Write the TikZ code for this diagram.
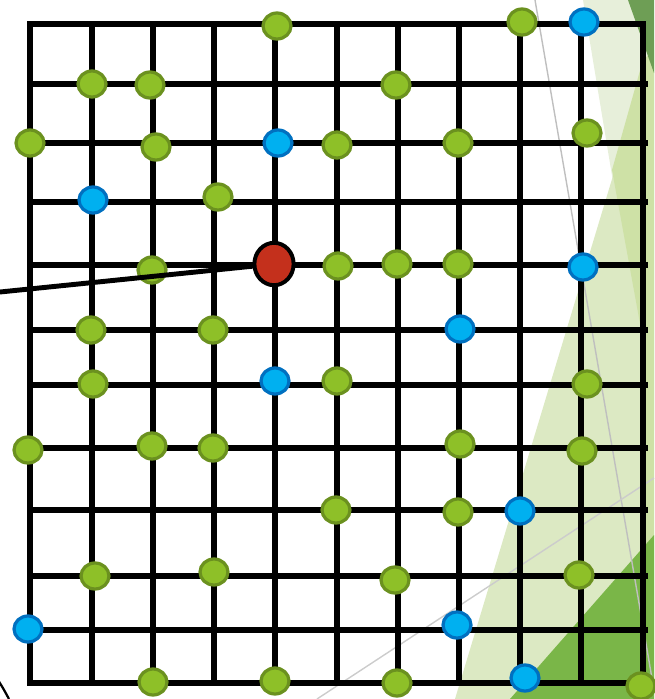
\documentclass[tikz,border=0pt]{standalone}
\usepackage{tikz}
\usetikzlibrary{shapes.geometric}

\definecolor{dotgreen}{HTML}{8EC028}
\definecolor{dotgreenline}{HTML}{6B911F}
\definecolor{dotblue}{HTML}{00B0F0}
\definecolor{dotblueline}{HTML}{0070C0}
\definecolor{hubred}{HTML}{C4301C}
\definecolor{palegreen}{HTML}{E7EFDA}
\definecolor{lightgreen}{HTML}{DCE9C3}
\definecolor{midgreen}{HTML}{CEE1A6}
\definecolor{darkgreen}{HTML}{7AB648}
\definecolor{cornergreen}{HTML}{6E9E55}

\begin{document}
\begin{tikzpicture}[x=0.025cm, y=-0.025cm,
    gridline/.style={line width=4.4pt},
    gdot/.style={ellipse, draw=dotgreenline, fill=dotgreen, line width=2.3pt,
      minimum width=0.7cm, minimum height=0.65cm, inner sep=0pt},
    bdot/.style={gdot, draw=dotblueline, fill=dotblue}]
  \useasboundingbox (0,0) rectangle (654,699);

  % background facets
  \fill[palegreen] (583,0) -- (654,0) -- (654,430) -- cycle;
  \fill[lightgreen] (455,699) -- (654,40) -- (654,699) -- cycle;
  \fill[midgreen] (643,60) -- (612,170) -- (643,340) -- cycle;
  \fill[midgreen] (643,60) -- (654,50) -- (654,699) -- (643,699) -- cycle;
  \fill[darkgreen] (510,699) -- (654,535) -- (654,699) -- cycle;
  \fill[cornergreen] (628,0) -- (654,0) -- (654,73) -- cycle;
  \draw[black!25, line width=1pt] (535,0) -- (654,690);
  \draw[black!20, line width=1pt] (317,699) -- (654,478);
  \draw[line width=1.6pt] (-2,680) .. controls (3,688) .. (9,699);

  % grid
  \foreach \x in {92,153,214,275,337,398,459,520,581}
    \draw[gridline] (\x,24) -- (\x,683);
  \foreach \y in {84,143,202,265,330,385,448,510,576,630}
    \draw[gridline] (27,\y) -- (648,\y);
  \draw[gridline] (30,24) rectangle (643,683);

  % green dots
  \foreach \x/\y [count=\i] in {277/26, 522/22, 92/84, 150/85, 396/85,
      30/143, 156/147, 337/145, 458/143, 587/133, 218/197,
      152/270, 338/266, 397/264, 458/264, 91/330, 213/330,
      93/384, 337/381, 587/384, 28/450, 152/446, 213/448, 460/444, 582/451,
      336/510, 458/512, 95/576, 214/572, 395/580, 579/575,
      153/682, 275/681, 397/683, 641/686}
    \node[gdot] (g\i) at (\x,\y) {};

  % blue dots
  \foreach \x/\y [count=\i] in {584/22, 278/143, 93/200, 583/267, 460/329,
      275/381, 520/511, 28/629, 457/625, 525/678}
    \node[bdot] (b\i) at (\x,\y) {};

  % red hub and its link
  \node[ellipse, draw, fill=hubred, line width=2.8pt, inner sep=0pt,
    minimum width=0.98cm, minimum height=1.06cm] (hub) at (274,264) {};
  \coordinate (edge) at (0,292);
  \draw[line width=3.5pt] (edge) -- (hub);
\end{tikzpicture}
\end{document}
